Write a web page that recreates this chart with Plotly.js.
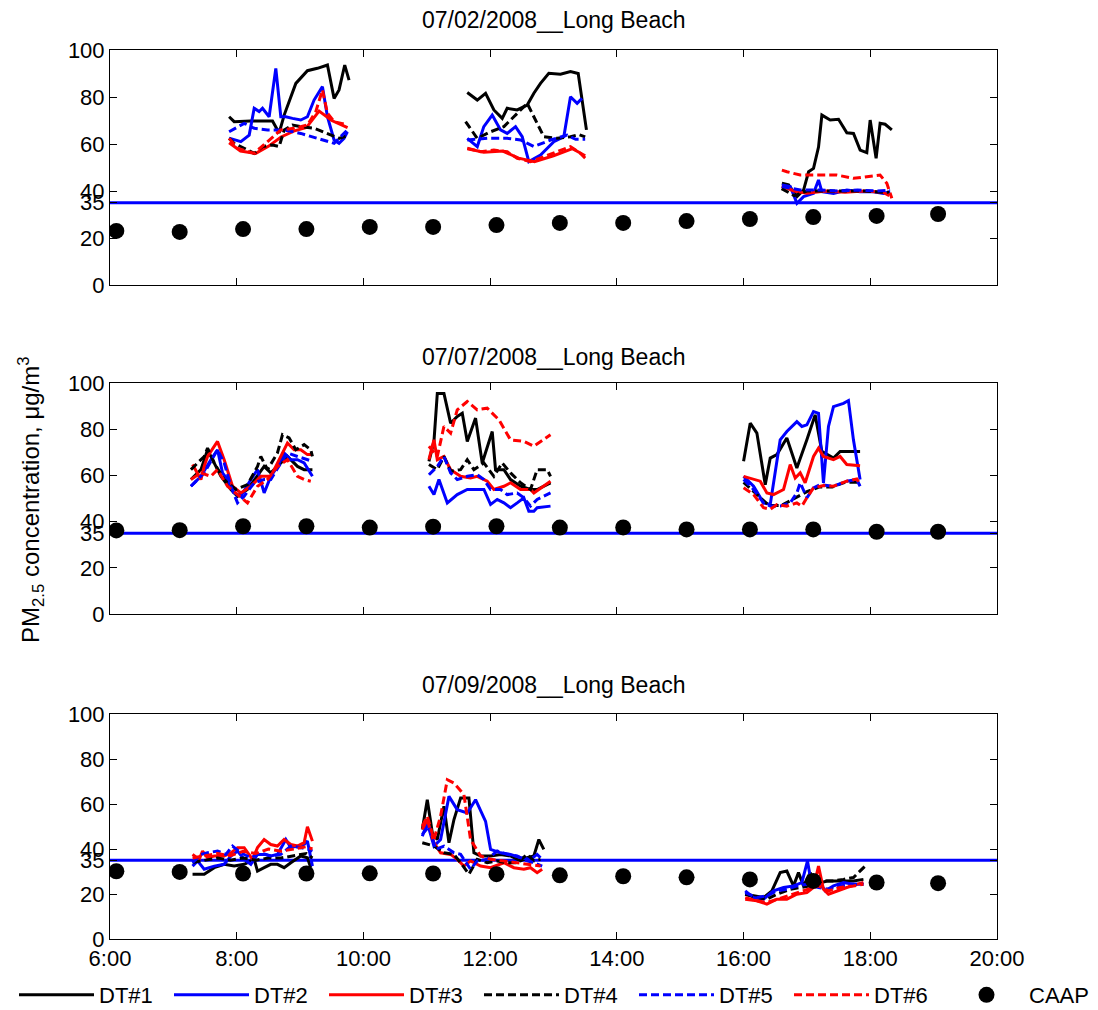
<!DOCTYPE html>
<html>
<head>
<meta charset="utf-8">
<script src="https://cdn.plot.ly/plotly-3.0.1.min.js"></script>
<style>html,body{margin:0;padding:0;background:#fff;}#chart{width:1098px;height:1010px;}</style>
</head>
<body>
<div id="chart"></div>
<script>
// ---------- DATA ----------
const dayTitles = ['07/02/2008__Long Beach', '07/07/2008__Long Beach', '07/09/2008__Long Beach'];
const seriesNames = ['DT#1', 'DT#2', 'DT#3', 'DT#4', 'DT#5', 'DT#6'];
const caapName = 'CAAP';
const xTickHours = [6, 8, 10, 12, 14, 16, 18, 20];
const xTickLabels = ['6:00', '8:00', '10:00', '12:00', '14:00', '16:00', '18:00', '20:00'];
const yTicks = [0, 20, 35, 40, 60, 80, 100];
const standardPM = 35;

// CAAP hourly values (hour of day, PM2.5)
const caapHours = [6.1, 7.1, 8.1, 9.1, 10.1, 11.1, 12.1, 13.1, 14.1, 15.1, 16.1, 17.1, 18.1, 19.07];
const caap_0702 = [23.0, 22.6, 23.8, 23.8, 24.7, 24.7, 25.5, 26.4, 26.4, 27.2, 28.1, 28.9, 29.4, 30.2];
const caap_0707 = [36.2, 36.3, 38.0, 38.0, 37.4, 37.8, 38.0, 37.4, 37.5, 36.6, 36.6, 36.6, 35.6, 35.6];
const caap_0709 = [30.1, 29.8, 29.1, 29.1, 29.2, 29.1, 28.8, 28.3, 27.9, 27.4, 26.5, 25.8, 25.1, 24.8];

// ---- 07/02/2008 ----
const d0702_DT1_t = [7.88, 7.96, 8.22, 8.565, 8.67, 8.749, 8.933, 9.116, 9.274, 9.432, 9.537, 9.615, 9.705, 9.773, null, 11.639, 11.797, 11.928, 12.059, 12.191, 12.269, 12.427, 12.585, 12.69, 12.795, 12.926, 13.11, 13.268, 13.39, 13.52, null, 16.605, 16.71, 16.842, 16.947, 17.026, 17.104, 17.183, 17.236, 17.367, 17.499, 17.63, 17.735, 17.84, 17.945, 17.998, 18.092, 18.155, 18.234, 18.34];
const d0702_DT1_v = [71.6, 69.5, 69.8, 69.8, 64.7, 72.3, 85.8, 91.2, 92.2, 93.6, 79.4, 83.0, 93.6, 87.2, null, 81.9, 78.7, 81.6, 74.5, 70.9, 75.2, 74.5, 76.6, 81.6, 85.8, 90.1, 89.7, 90.8, 90.0, 66.0, null, 43.3, 42.6, 37.6, 40.4, 48.2, 49.6, 58.7, 72.3, 70.2, 70.5, 64.8, 64.5, 57.4, 56.3, 70.2, 53.9, 68.8, 68.4, 66.0];
const d0702_DT2_t = [7.88, 8.065, 8.197, 8.276, 8.354, 8.407, 8.512, 8.617, 8.696, 8.775, 8.88, 9.011, 9.116, 9.221, 9.353, 9.432, 9.537, 9.615, 9.694, 9.747, null, 11.639, 11.797, 11.9, 12.033, 12.164, 12.269, 12.401, 12.506, 12.611, 12.795, 13.005, 13.163, 13.268, 13.373, 13.45, null, 16.605, 16.737, 16.842, 16.947, 17.104, 17.183, 17.236, 17.42, 17.63, 17.84, 18.05, 18.208, 18.313];
const d0702_DT2_v = [62.5, 61.0, 63.8, 75.2, 73.8, 75.2, 71.6, 92.2, 71.6, 71.6, 70.9, 70.2, 71.6, 78.7, 84.4, 71.6, 61.7, 60.3, 62.4, 65.2, null, 62.4, 58.9, 67.4, 72.3, 66.0, 64.5, 67.4, 63.1, 52.5, 55.3, 61.0, 63.1, 80.1, 77.3, 79.4, null, 42.6, 41.9, 34.8, 37.6, 39.0, 44.7, 39.7, 39.0, 40.4, 39.7, 39.7, 39.0, 39.7];
const d0702_DT3_t = [7.88, 8.06, 8.3, 8.5, 8.7, 8.9, 9.1, 9.3, 9.5, 9.75, null, 11.64, 11.9, 12.2, 12.45, 12.7, 13.0, 13.3, 13.5, null, 16.6, 16.8, 17.0, 17.3, 17.6, 17.9, 18.2, 18.3];
const d0702_DT3_v = [60.5, 57.0, 56.0, 59.0, 63.0, 65.5, 67.0, 74.0, 70.0, 67.0, null, 58.0, 56.5, 57.0, 54.0, 52.5, 55.0, 58.0, 55.0, null, 42.0, 40.0, 39.0, 40.0, 39.5, 40.0, 39.5, 38.0];
const d0702_DT4_t = [7.88, 7.96, 8.118, 8.276, 8.407, 8.565, 8.67, 8.749, 8.88, 9.011, 9.221, 9.432, 9.615, 9.773, null, 11.612, 11.797, 12.007, 12.217, 12.374, 12.585, 12.69, 12.847, 13.058, 13.268, 13.4, 13.5, null, 16.6, 16.8, 17.0, 17.3, 17.6, 17.9, 18.2, 18.3];
const d0702_DT4_v = [62.4, 60.3, 58.2, 56.0, 58.9, 59.6, 58.9, 66.0, 68.1, 67.4, 66.7, 64.5, 62.4, 63.8, null, 69.5, 62.4, 65.2, 67.4, 71.6, 77.3, 71.6, 63.1, 62.4, 63.1, 64.0, 63.0, null, 41.0, 38.0, 40.0, 40.0, 40.0, 40.0, 39.5, 39.5];
const d0702_DT5_t = [7.88, 8.118, 8.276, 8.486, 8.749, 9.011, 9.274, 9.537, 9.747, null, 11.639, 11.954, 12.269, 12.48, 12.69, 12.953, 13.215, 13.35, 13.5, null, 16.605, 16.894, 17.2, 17.5, 17.8, 18.1, 18.313];
const d0702_DT5_v = [65.2, 68.8, 66.7, 66.0, 66.0, 64.5, 62.4, 60.3, 66.0, null, 61.7, 62.4, 62.4, 61.7, 58.9, 61.7, 63.8, 62.0, 62.0, null, 41.9, 40.4, 40.4, 40.0, 40.4, 40.0, 40.4];
const d0702_DT6_t = [7.88, 8.01, 8.276, 8.486, 8.696, 8.906, 9.116, 9.248, 9.353, 9.432, 9.537, 9.747, null, 11.639, 11.849, 12.059, 12.269, 12.427, 12.637, 12.847, 13.058, 13.268, 13.426, 13.5, null, 16.605, 16.684, 16.894, 17.21, 17.472, 17.735, 17.945, 18.155, 18.261, 18.34];
const d0702_DT6_v = [62.4, 58.2, 56.0, 61.0, 66.0, 66.7, 68.1, 73.8, 83.0, 73.1, 69.5, 68.1, null, 58.2, 56.7, 57.4, 56.7, 53.9, 52.5, 54.6, 56.7, 58.9, 56.0, 54.0, null, 48.9, 48.2, 46.8, 46.8, 46.8, 45.4, 46.1, 46.8, 43.3, 36.9];

// ---- 07/07/2008 ----
const d0707_DT1_t = [7.277, 7.435, 7.54, 7.645, 7.75, 7.908, 8.013, 8.17, 8.328, 8.433, 8.538, 8.696, 8.801, 8.959, 9.064, 9.195, null, 11.034, 11.113, 11.166, 11.271, 11.376, 11.481, 11.56, 11.639, 11.77, 11.875, 12.033, 12.085, 12.217, 12.322, 12.48, 12.637, 12.742, 12.953, null, 16.0, 16.105, 16.21, 16.342, 16.421, 16.526, 16.683, 16.841, 16.999, 17.13, 17.235, 17.419, 17.524, 17.734, 17.839];
const d0707_DT1_v = [58.2, 62.5, 71.1, 65.4, 59.6, 53.9, 51.0, 53.9, 59.6, 63.9, 61.1, 65.4, 68.2, 63.9, 62.5, 62.5, null, 66.1, 74.7, 95.5, 95.5, 82.6, 85.5, 86.9, 74.7, 84.8, 65.4, 79.0, 62.5, 62.5, 58.2, 55.3, 53.9, 53.9, 56.8, null, 66.1, 82.6, 78.3, 56.0, 67.5, 69.0, 76.2, 63.2, 75.4, 86.2, 70.4, 67.5, 70.4, 70.4, 70.4];
const d0707_DT2_t = [7.277, 7.435, 7.592, 7.697, 7.776, 7.855, 7.96, 8.065, 8.223, 8.328, 8.433, 8.538, 8.643, 8.748, 8.854, 8.959, 9.064, 9.195, null, 11.034, 11.113, 11.192, 11.324, 11.481, 11.639, 11.796, 11.902, 12.007, 12.112, 12.217, 12.322, 12.427, 12.532, 12.611, 12.69, 12.742, 12.953, null, 16.0, 16.158, 16.315, 16.421, 16.578, 16.683, 16.841, 16.92, 16.999, 17.104, 17.183, 17.261, 17.34, 17.419, 17.577, 17.655, 17.734, 17.839];
const d0707_DT2_v = [55.3, 59.6, 66.8, 71.1, 61.1, 58.2, 52.4, 51.0, 58.2, 62.5, 52.4, 59.6, 63.9, 69.7, 66.8, 66.8, 65.4, 59.6, null, 55.3, 51.7, 58.2, 48.1, 51.7, 53.9, 53.9, 53.9, 47.4, 49.6, 48.1, 46.0, 48.1, 50.3, 44.5, 44.5, 46.0, 46.7, null, 59.6, 55.3, 48.1, 47.4, 75.4, 79.0, 83.3, 81.2, 81.9, 87.6, 86.9, 56.8, 81.2, 89.8, 91.2, 92.4, 75.4, 58.2];
const d0707_DT3_t = [7.303, 7.435, 7.487, 7.54, 7.697, 7.802, 7.934, 8.065, 8.223, 8.381, 8.538, 8.696, 8.801, 8.906, 9.011, 9.116, 9.195, null, 11.034, 11.113, 11.166, 11.271, 11.376, 11.534, 11.691, 11.796, 11.954, 12.059, 12.217, 12.322, 12.48, 12.637, 12.69, 12.847, 12.953, null, 16.0, 16.263, 16.368, 16.473, 16.631, 16.736, 16.815, 16.894, 16.972, 17.104, 17.183, 17.261, 17.419, 17.524, 17.629, 17.839];
const d0707_DT3_v = [64.7, 58.2, 63.9, 68.2, 74.7, 66.8, 55.3, 52.4, 55.3, 59.6, 59.6, 68.2, 74.0, 71.1, 71.1, 69.0, 69.0, null, 66.8, 75.4, 66.8, 68.2, 62.5, 59.6, 58.9, 59.6, 57.5, 53.9, 55.3, 56.8, 53.9, 53.9, 52.4, 55.3, 57.5, null, 59.6, 57.5, 52.4, 51.7, 53.9, 64.7, 58.9, 61.1, 56.8, 68.2, 71.8, 68.2, 66.8, 68.2, 64.7, 64.2];
const d0707_DT4_t = [7.277, 7.487, 7.54, 7.645, 7.802, 7.986, 8.17, 8.328, 8.381, 8.486, 8.643, 8.722, 8.827, 8.932, 9.064, 9.169, 9.195, null, 11.034, 11.166, 11.271, 11.376, 11.534, 11.639, 11.744, 11.902, 12.059, 12.19, 12.322, 12.48, 12.637, 12.742, 12.9, 12.953, null, 16.0, 16.2, 16.4, 16.6, 16.8, 17.0, 17.2, 17.4, 17.6, 17.84];
const d0707_DT4_v = [62.5, 68.2, 71.8, 65.4, 58.2, 53.9, 56.0, 63.9, 68.2, 62.5, 69.7, 77.6, 76.2, 71.1, 73.3, 71.1, 68.2, null, 64.7, 62.5, 68.2, 61.8, 62.5, 66.8, 62.5, 65.4, 59.6, 65.4, 61.1, 56.8, 53.9, 62.5, 62.5, 59.6, null, 57.0, 52.0, 47.0, 47.0, 50.0, 53.0, 55.0, 55.0, 57.0, 57.0];
const d0707_DT5_t = [7.277, 7.487, 7.697, 7.802, 7.908, 8.013, 8.118, 8.276, 8.433, 8.538, 8.696, 8.801, 8.959, 9.116, 9.195, null, 11.034, 11.166, 11.271, 11.376, 11.481, 11.639, 11.796, 11.902, 12.007, 12.164, 12.269, 12.427, 12.532, 12.637, 12.742, 12.953, null, 16.0, 16.158, 16.315, 16.421, 16.578, 16.736, 16.841, 16.894, 16.999, 17.104, 17.209, 17.419, 17.629, 17.787, 17.839];
const d0707_DT5_v = [55.3, 61.1, 71.1, 65.4, 55.3, 48.1, 51.0, 56.8, 58.2, 58.2, 65.4, 69.7, 68.2, 66.8, 66.1, null, 60.3, 63.9, 68.2, 61.1, 58.2, 59.6, 60.3, 58.2, 53.9, 53.9, 51.7, 52.4, 50.3, 46.7, 49.6, 52.4, null, 58.2, 53.9, 48.1, 46.7, 46.7, 48.1, 52.4, 56.8, 50.3, 54.6, 56.0, 55.3, 57.5, 58.2, 55.3];
const d0707_DT6_t = [7.277, 7.435, 7.592, 7.697, 7.855, 8.013, 8.17, 8.328, 8.486, 8.643, 8.801, 8.959, 9.064, 9.169, null, 11.034, 11.166, 11.271, 11.376, 11.481, 11.639, 11.796, 11.954, 12.138, 12.322, 12.532, 12.69, 12.953, null, 16.0, 16.158, 16.315, 16.421, 16.526, 16.683, 16.841, 16.92, 16.999, 17.104, 17.261, 17.419, 17.629, 17.787, 17.839];
const d0707_DT6_v = [58.2, 61.1, 59.6, 62.5, 55.3, 51.7, 48.1, 55.3, 58.2, 63.9, 66.8, 59.6, 58.2, 57.5, null, 72.6, 68.2, 81.2, 78.3, 88.4, 92.0, 88.4, 89.1, 84.1, 75.4, 74.7, 72.6, 77.6, null, 54.6, 51.7, 46.0, 45.3, 47.4, 46.7, 48.1, 46.7, 50.3, 54.6, 55.6, 55.3, 57.5, 58.5, 56.0];

// ---- 07/09/2008 ----
const d0709_DT1_t = [7.303, 7.487, 7.645, 7.802, 7.96, 8.118, 8.276, 8.328, 8.433, 8.538, 8.643, 8.748, 8.854, 9.011, 9.116, 9.169, null, 10.929, 11.008, 11.087, 11.166, 11.271, 11.35, 11.429, 11.534, 11.665, 11.744, 11.849, 12.007, 12.164, 12.322, 12.48, 12.585, 12.69, 12.769, 12.847, null, 16.026, 16.158, 16.315, 16.447, 16.578, 16.683, 16.788, 16.867, 16.946, 17.051, 17.13, 17.314, 17.524, 17.734, 17.892];
const d0709_DT1_v = [28.8, 28.8, 31.7, 33.2, 32.4, 33.2, 35.4, 30.2, 31.7, 33.2, 33.2, 31.7, 33.9, 36.9, 36.1, 31.7, null, 48.7, 61.9, 47.2, 44.2, 59.0, 42.8, 53.1, 62.7, 62.7, 38.3, 36.9, 36.9, 37.6, 36.9, 34.7, 36.1, 36.9, 44.2, 39.8, null, 19.9, 19.2, 18.4, 21.4, 29.5, 30.2, 23.6, 29.5, 23.6, 29.5, 24.3, 25.8, 25.8, 25.8, 26.5];
const d0709_DT2_t = [7.303, 7.382, 7.487, 7.645, 7.802, 7.908, 8.013, 8.118, 8.223, 8.328, 8.433, 8.538, 8.643, 8.775, 8.854, 8.959, 9.064, 9.116, 9.195, null, 10.929, 11.008, 11.113, 11.218, 11.35, 11.481, 11.639, 11.77, 11.928, 12.007, 12.164, 12.322, 12.48, 12.637, 12.742, 12.795, null, 16.026, 16.158, 16.315, 16.473, 16.631, 16.788, 16.92, 17.009, 17.077, 17.183, 17.288, 17.419, 17.577, 17.734, 17.892];
const d0709_DT2_v = [32.4, 34.7, 31.0, 32.4, 33.2, 36.9, 39.1, 35.4, 33.2, 37.6, 37.6, 36.9, 37.6, 44.2, 40.6, 41.3, 42.0, 43.5, 32.4, null, 45.7, 51.6, 41.3, 44.2, 63.4, 57.5, 56.0, 61.9, 52.3, 39.8, 38.3, 37.6, 36.1, 35.4, 37.6, 36.1, null, 21.4, 18.4, 17.7, 21.4, 22.9, 23.6, 25.1, 34.7, 23.6, 25.8, 21.4, 23.6, 25.1, 24.3, 24.3];
const d0709_DT3_t = [7.303, 7.408, 7.461, 7.54, 7.645, 7.802, 7.908, 8.013, 8.118, 8.249, 8.328, 8.433, 8.538, 8.643, 8.748, 8.854, 8.959, 9.064, 9.116, 9.195, null, 10.929, 11.008, 11.113, 11.218, 11.376, 11.481, 11.586, 11.691, 11.849, 12.007, 12.217, 12.375, 12.532, 12.637, 12.742, 12.821, null, 16.026, 16.21, 16.368, 16.526, 16.683, 16.841, 16.999, 17.104, 17.183, 17.261, 17.34, 17.472, 17.629, 17.787, 17.892];
const d0709_DT3_v = [37.6, 35.4, 39.1, 36.1, 36.9, 36.9, 38.3, 40.6, 40.6, 35.4, 40.6, 44.2, 42.0, 41.3, 44.2, 42.0, 41.3, 42.8, 49.9, 43.5, null, 48.7, 53.1, 42.8, 38.3, 37.6, 35.4, 32.4, 34.7, 32.4, 31.7, 33.9, 31.7, 31.0, 31.7, 29.5, 31.0, null, 17.7, 17.0, 15.5, 17.7, 17.7, 19.9, 20.6, 22.9, 32.4, 22.1, 19.9, 21.4, 22.9, 24.3, 25.1];
const d0709_DT4_t = [7.303, 7.5, 7.7, 7.9, 8.1, 8.3, 8.5, 8.7, 8.9, 9.1, 9.195, null, 10.929, 11.113, 11.271, 11.429, 11.534, 11.665, 11.796, 11.954, 12.112, 12.269, 12.427, 12.585, 12.69, 12.795, null, 16.026, 16.21, 16.368, 16.526, 16.736, 16.894, 17.051, 17.261, 17.419, 17.577, 17.734, 17.918];
const d0709_DT4_v = [34.0, 35.0, 36.0, 35.0, 36.0, 35.0, 36.0, 36.0, 37.0, 38.0, 36.0, null, 42.8, 41.3, 38.3, 37.6, 33.9, 28.8, 35.4, 33.9, 34.7, 33.9, 33.9, 37.6, 34.7, 35.4, null, 19.9, 18.4, 17.7, 19.9, 22.1, 22.9, 23.6, 25.8, 25.8, 26.5, 27.3, 32.4];
const d0709_DT5_t = [7.303, 7.435, 7.54, 7.697, 7.829, 7.934, 8.065, 8.223, 8.381, 8.538, 8.696, 8.854, 9.011, 9.142, 9.195, null, 10.929, 11.034, 11.14, 11.271, 11.429, 11.534, 11.691, 11.796, 11.954, 12.112, 12.269, 12.427, 12.585, 12.69, 12.821, null, 16.026, 16.21, 16.368, 16.526, 16.683, 16.841, 16.999, 17.183, 17.34, 17.524, 17.734, 17.892];
const d0709_DT5_v = [33.9, 37.6, 38.3, 39.1, 37.6, 41.3, 38.3, 36.1, 38.3, 36.9, 37.6, 41.3, 40.6, 39.8, 39.1, null, 46.5, 50.1, 39.8, 41.3, 38.3, 37.6, 31.0, 34.7, 35.4, 39.1, 37.6, 36.9, 34.7, 33.9, 32.4, null, 20.6, 18.4, 19.2, 21.4, 22.1, 23.6, 24.3, 22.9, 22.1, 23.6, 24.3, 24.3];
const d0709_DT6_t = [7.303, 7.5, 7.7, 7.9, 8.1, 8.3, 8.5, 8.7, 8.9, 9.1, 9.195, null, 10.929, 11.008, 11.113, 11.218, 11.324, 11.429, 11.586, 11.691, 11.849, 12.007, 12.217, 12.427, 12.637, 12.795, null, 16.026, 16.21, 16.368, 16.526, 16.683, 16.841, 16.999, 17.183, 17.34, 17.524, 17.734, 17.892];
const d0709_DT6_v = [36.0, 37.0, 38.0, 37.0, 39.0, 38.0, 40.0, 39.0, 40.0, 41.0, 40.0, null, 50.1, 54.6, 44.2, 54.6, 70.8, 69.3, 64.2, 44.2, 36.9, 35.4, 34.7, 33.9, 33.2, 32.4, null, 18.4, 17.0, 16.2, 17.7, 19.2, 20.6, 22.1, 23.6, 21.4, 22.9, 23.6, 24.3];

// ---------- BUILD ----------
const days = [
  {t: [d0702_DT1_t, d0702_DT2_t, d0702_DT3_t, d0702_DT4_t, d0702_DT5_t, d0702_DT6_t],
   v: [d0702_DT1_v, d0702_DT2_v, d0702_DT3_v, d0702_DT4_v, d0702_DT5_v, d0702_DT6_v], caap: caap_0702},
  {t: [d0707_DT1_t, d0707_DT2_t, d0707_DT3_t, d0707_DT4_t, d0707_DT5_t, d0707_DT6_t],
   v: [d0707_DT1_v, d0707_DT2_v, d0707_DT3_v, d0707_DT4_v, d0707_DT5_v, d0707_DT6_v], caap: caap_0707},
  {t: [d0709_DT1_t, d0709_DT2_t, d0709_DT3_t, d0709_DT4_t, d0709_DT5_t, d0709_DT6_t],
   v: [d0709_DT1_v, d0709_DT2_v, d0709_DT3_v, d0709_DT4_v, d0709_DT5_v, d0709_DT6_v], caap: caap_0709}
];

const colors = ['#000000', '#0000FF', '#FF0000', '#000000', '#0000FF', '#FF0000'];
const dashes = ['solid', 'solid', 'solid', '8px,4px', '8px,4px', '8px,4px'];
const FONT = 'Liberation Sans, Arial, Helvetica, sans-serif';

const W = 1098, H = 1010;
const plotLeft = 110, plotRight = 997;
const plotW = plotRight - plotLeft;
const marginB = 45;
const HP = H - marginB; // paper height (px from top)
const panelPx = [[50, 285], [383, 614], [714, 939]];
const titlePx = [20, 357, 685];
const py = px => (HP - px) / HP;
const px2x = px => (px - plotLeft) / plotW;
const legendKey = k => (k === 0 ? 'legend' : 'legend' + (k + 1));
const legendStartPx = 14, legendStepPx = 155, legendRowPx = 995;

const traces = [];
days.forEach((d, i) => {
  const xa = 'x' + (i === 0 ? '' : i + 1);
  const ya = 'y' + (i === 0 ? '' : i + 1);
  for (let s = 0; s < 6; s++) {
    traces.push({
      type: 'scatter', mode: 'lines', x: d.t[s], y: d.v[s],
      xaxis: xa, yaxis: ya, name: seriesNames[s], legendgroup: seriesNames[s],
      legend: legendKey(s), showlegend: i === 0, connectgaps: false,
      line: {color: colors[s], width: 3, dash: dashes[s]}
    });
  }
  traces.push({
    type: 'scatter', mode: 'markers', x: caapHours, y: d.caap,
    xaxis: xa, yaxis: ya, name: caapName, legendgroup: caapName,
    legend: legendKey(6), showlegend: i === 0,
    marker: {color: '#000000', size: 16}
  });
});

const layout = {
  width: W, height: H,
  margin: {l: plotLeft, r: W - plotRight, t: 0, b: marginB, pad: 0, autoexpand: false},
  paper_bgcolor: '#ffffff', plot_bgcolor: '#ffffff',
  font: {family: FONT, size: 22, color: '#000'},
  showlegend: true,
  annotations: [],
  shapes: []
};

for (let k = 0; k < 7; k++) {
  layout[legendKey(k)] = {
    orientation: 'h', x: px2x(legendStartPx + k * legendStepPx), xanchor: 'left',
    y: py(legendRowPx), yanchor: 'middle', itemwidth: 75,
    font: {family: FONT, size: 22, color: '#000'}, bgcolor: 'rgba(0,0,0,0)', borderwidth: 0
  };
}

panelPx.forEach((p, i) => {
  const sfx = i === 0 ? '' : String(i + 1);
  layout['xaxis' + sfx] = {
    domain: [0, 1], range: [6, 20], anchor: 'y' + sfx,
    tickmode: 'array', tickvals: xTickHours, ticktext: xTickLabels,
    showticklabels: i === 2, ticks: 'inside', ticklen: 7, tickcolor: '#000', tickwidth: 1,
    showline: true, linecolor: '#000', linewidth: 1, mirror: 'ticks',
    showgrid: false, zeroline: false, tickfont: {family: FONT, size: 22, color: '#000'}
  };
  layout['yaxis' + sfx] = {
    domain: [py(p[1]), py(p[0])], range: [0, 100], anchor: 'x' + sfx,
    tickmode: 'array', tickvals: yTicks, ticks: 'inside', ticklen: 7, tickcolor: '#000', tickwidth: 1,
    showline: true, linecolor: '#000', linewidth: 1, mirror: 'ticks',
    showgrid: false, zeroline: false, tickfont: {family: FONT, size: 22, color: '#000'}
  };
  layout.annotations.push({
    text: dayTitles[i], xref: 'paper', yref: 'paper', x: 0.5, y: py(titlePx[i]),
    xanchor: 'center', yanchor: 'middle', showarrow: false,
    font: {family: FONT, size: 23, color: '#000'}
  });
  layout.shapes.push({
    type: 'line', xref: 'x' + sfx + ' domain', yref: 'y' + sfx,
    x0: 0, x1: 1, y0: standardPM, y1: standardPM,
    line: {color: '#0000FF', width: 3}, layer: 'below'
  });
});

layout.annotations.push({
  text: 'PM<sub>2.5</sub> concentration, \u03bcg/m<sup>3</sup>',
  xref: 'paper', yref: 'paper', x: px2x(31), y: py(500),
  xanchor: 'center', yanchor: 'middle', textangle: -90, showarrow: false,
  font: {family: FONT, size: 24, color: '#000'}
});

Plotly.newPlot('chart', traces, layout, {displayModeBar: false, staticPlot: true});
</script>
</body>
</html>
